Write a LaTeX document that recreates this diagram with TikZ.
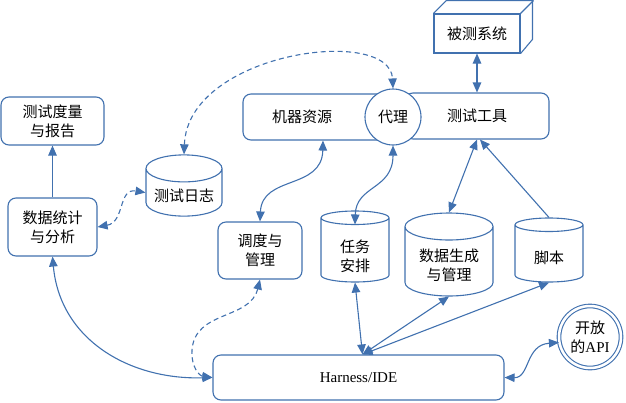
\documentclass[tikz,border=0pt]{standalone}
\usepackage{fontspec}
\setmainfont{Liberation Serif}
\newfontfamily\cjk{Noto Sans CJK SC}
\usetikzlibrary{shapes.geometric,arrows.meta}

\definecolor{lineblue}{RGB}{65,113,175}
\tikzstyle{box}=[draw=lineblue,line width=1.1pt,rounded corners=8pt,fill=white,align=center,inner sep=0pt]
\tikzstyle{cube}=[draw=lineblue,line width=1.1pt,fill=white,inner sep=0pt]
\tikzstyle{store}=[draw=lineblue,line width=1.1pt,cylinder,shape border rotate=90,aspect=0.45,fill=white,align=center,inner sep=0pt,anchor=shape center]
\tikzstyle{agent}=[draw=lineblue,line width=1.1pt,circle,fill=white,minimum size=56pt,inner sep=0pt]
\tikzstyle{api}=[draw=lineblue,line width=1.1pt,circle,double=white,double distance=2.5pt,minimum size=62pt,inner sep=0pt,align=center]
\tikzstyle{edge}=[draw=lineblue,line width=1.1pt]
\tikzstyle{dashedge}=[edge,dash pattern=on 5pt off 3.5pt]

\begin{document}
\begin{tikzpicture}[x=1pt,y=-1pt,>={Triangle[length=10pt,width=8.5pt]},
    font=\cjk\fontsize{15}{19}\selectfont]
    \useasboundingbox (0,0) rectangle (626,402);
    % First the boxes
    \node[box,minimum width=103pt,minimum height=48pt] (metric) at (52.5,121) {测试度量\\与报告};
    \node[box,minimum width=89pt,minimum height=58pt] (stat) at (52.5,227) {数据统计\\与分析};
    \node[box,minimum width=84pt,minimum height=57pt] (sched) at (260,250.5) {调度与\\管理};
    \node[box,minimum width=150pt,minimum height=46pt] (mach) at (318,117) {机器资源\hspace*{32pt}};
    \node[box,minimum width=144pt,minimum height=46pt] (tool) at (477,116) {测试工具};
    \node[agent] (agent) at (393,117) {代理};
    \node[box,minimum width=291pt,minimum height=45pt,font=\rmfamily\fontsize{15}{19}\selectfont] (ide) at (358.5,377.5) {Harness/IDE};
    \node[api] (api) at (590,337) {开放\\的{\rmfamily API}};
    % system under test as a cuboid
    \node[cube,minimum width=86pt,minimum height=39pt] (sut) at (477,33.5) {被测系统};
    \draw[edge] (sut.north west) -- ++(13,-13) -- ++(86,0) -- ++(0,39) -- (sut.south east);
    \draw[edge] (sut.north east) -- ++(13,-13);
    % the stores
    \foreach \pos/\name/\w/\h/\th/\txt in {{(184,185.5)/log/76/59/19/{测试日志}},
        {(355,246.5)/task/68/71/43/{任务\\安排}}, {(449,254.5)/data/88/83/40/{数据生成\\与管理}},
        {(549,250)/script/68/64/20/{脚本}}}
        \node[store,minimum width=\w pt,minimum height=\h pt,text height=\th pt] (\name) at \pos {\txt};
    % Free ends of some connectors
    \coordinate (idetop) at ([xshift=4pt]ide.north);
    \coordinate (tooltip) at ([xshift=3pt]tool.south);
    \coordinate (machbot) at ([xshift=5pt]mach.south);
    \coordinate (tasktop) at ([yshift=-14pt]task.north);
    % Straight connectors
    \foreach \source/\dest in {sut.south/tool.north, tool.south/data.north,
        idetop/task.south, idetop/data.south, idetop/script.south}
        \path[edge,<->] (\source) -- (\dest);
    \path[edge,->] (stat.north) -- (metric.south);
    \path[edge,->] (script.north) -- (tooltip);
    % Curved connectors
    \path[edge,<->] (stat.south) .. controls (60,340) and (130,380) .. (ide.west);
    \path[edge,<->] (sched.north) .. controls (262,175) and (322,190) .. (machbot);
    \path[edge,<->] (tasktop) .. controls (356,185) and (393,190) .. (agent.south);
    \path[edge,<->] (ide.east) .. controls (530,378) and (525,345) .. (api.190);
    \path[dashedge,<->] (log.north) .. controls (188,52) and (390,25) .. (agent.north);
    \path[dashedge,<->] (stat.east) .. controls (125,222) and (118,188) .. (log.west);
    \path[dashedge,<->] (sched.south) .. controls (250,320) and (195,310) .. (192,350)
        .. controls (191,368) and (200,376) .. (ide.west);
\end{tikzpicture}
\end{document}
